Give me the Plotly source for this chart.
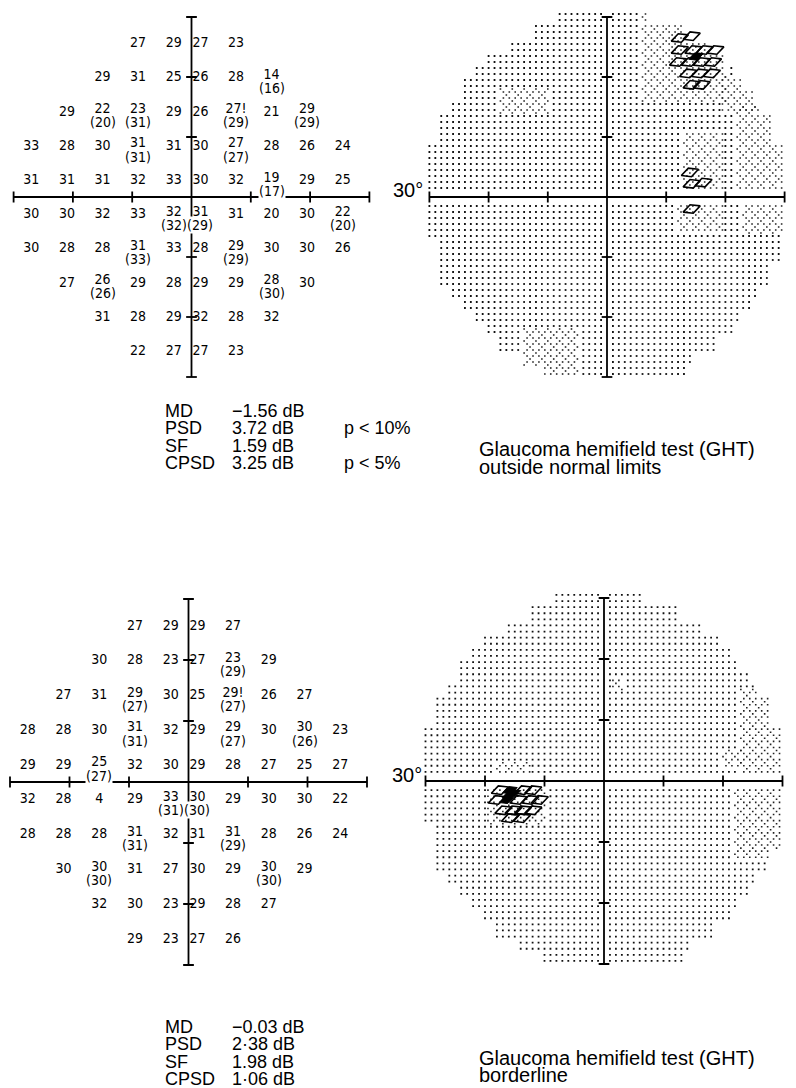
import math
import plotly.graph_objects as go

# the browser adds an 8 px body margin, so every page-pixel target is shifted by OFF
OFF = 8
W, H = 796 - OFF, 1088 - OFF

# ---------------- data ----------------
ROW_DEG = [27, 21, 15, 9, 3, -3, -9, -15, -21, -27]
COL_DEG = [-27, -21, -15, -9, -3, 3, 9, 15, 21, 27]

TOP_THRESH = [
    [None, None, None, "27", "29", "27", "23", None, None, None],
    [None, None, "29", "31", "25", "26", "28", "14", None, None],
    [None, "29", "22", "23", "29", "26", "27!", "21", "29", None],
    ["33", "28", "30", "31", "31", "30", "27", "28", "26", "24"],
    ["31", "31", "31", "32", "33", "30", "32", "19", "29", "25"],
    ["30", "30", "32", "33", "32", "31", "31", "20", "30", "22"],
    ["30", "28", "28", "31", "33", "28", "29", "30", "30", "26"],
    [None, "27", "26", "29", "28", "29", "29", "28", "30", None],
    [None, None, "31", "28", "29", "32", "28", "32", None, None],
    [None, None, None, "22", "27", "27", "23", None, None, None],
]
# retested values shown in brackets: (row deg, col deg, value)
TOP_RETEST = [
    (21, 15, "16"),
    (15, -15, "20"), (15, -9, "31"), (15, 9, "29"), (15, 21, "29"),
    (9, -9, "31"), (9, 9, "27"),
    (3, 15, "17"),
    (-3, -3, "32"), (-3, 3, "29"), (-3, 27, "20"),
    (-9, -9, "33"), (-9, 9, "29"),
    (-15, -15, "26"), (-15, 15, "30"),
]

BOT_THRESH = [
    [None, None, None, "27", "29", "29", "27", None, None, None],
    [None, None, "30", "28", "23", "27", "23", "29", None, None],
    [None, "27", "31", "29", "30", "25", "29!", "26", "27", None],
    ["28", "28", "30", "31", "32", "29", "29", "30", "30", "23"],
    ["29", "29", "25", "32", "30", "29", "28", "27", "25", "27"],
    ["32", "28", "4", "29", "33", "30", "29", "30", "30", "22"],
    ["28", "28", "28", "31", "32", "31", "31", "28", "26", "24"],
    [None, "30", "30", "31", "27", "30", "29", "30", "29", None],
    [None, None, "32", "30", "23", "29", "28", "27", None, None],
    [None, None, None, "29", "23", "27", "26", None, None, None],
]
BOT_RETEST = [
    (21, 9, "29"),
    (15, -9, "27"), (15, 9, "27"),
    (9, -9, "31"), (9, 9, "27"), (9, 21, "26"),
    (3, -15, "27"),
    (-3, -3, "31"), (-3, 3, "30"),
    (-9, -9, "31"), (-9, 9, "29"),
    (-15, -15, "30"), (-15, 15, "30"),
]

TOP_INDICES = [("MD", "\u22121.56 dB", ""),
               ("PSD", "3.72 dB", "p < 10%"),
               ("SF", "1.59 dB", ""),
               ("CPSD", "3.25 dB", "p < 5%")]
BOT_INDICES = [("MD", "\u22120.03 dB", ""),
               ("PSD", "2\u00b738 dB", ""),
               ("SF", "1.98 dB", ""),
               ("CPSD", "1\u00b706 dB", "")]
TOP_GHT = ["Glaucoma hemifield test (GHT)", "outside normal limits"]
BOT_GHT = ["Glaucoma hemifield test (GHT)", "borderline"]

AXIS_TICKS = [-30, -20, -10, 10, 20, 30]

# grey-scale field outline: (row top, row bottom, x left, x right) in degrees
FIELD_BANDS = [
    (30.5, 29.5, -8.5, 6.5),
    (28.5, 26.5, -12.5, 12.5),
    (25.5, 24.5, -16.5, 16.5),
    (23.5, 22.5, -20.5, 19.5),
    (21.5, 20.5, -22.5, 21.5),
    (19.5, 18.5, -24.5, 22.5),
    (17.5, 16.5, -24.5, 24.5),
    (15.5, 14.5, -26.5, 25.5),
    (13.5, 9.5, -28.5, 27.5),
    (8.5, 1.5, -30.5, 29.5),
    (-1.5, -6.5, -30.5, 29.5),
    (-7.5, -10.5, -28.5, 29.5),
    (-11.5, -14.5, -28.5, 27.5),
    (-15.5, -16.5, -26.5, 25.5),
    (-17.5, -18.5, -24.5, 24.5),
    (-19.5, -20.5, -22.5, 22.5),
    (-21.5, -22.5, -20.5, 21.5),
    (-23.5, -25.5, -18.5, 18.5),
    (-26.5, -27.5, -14.5, 14.5),
    (-28.5, -29.5, -10.5, 13.5),
]
# cross-hatch (reduced sensitivity) areas: x0, x1, y0, y1 in degrees
TOP_HATCH = [
    (6, 20, 16, 31), (19.5, 25, 14.5, 20), (22, 29.5, 1.5, 15),
    (13, 19.5, 1.5, 10.5), (12, 19.5, -5.5, -1.5), (23, 29.5, -6, -1.5),
    (-14, -5, -29.5, -22), (-18, -10, 14, 18),
]
BOT_HATCH = [
    (23, 29.5, 1.5, 15), (20, 23, 2.5, 5), (22, 29.5, -12.5, -1.5),
    (-18, -12.5, 1.5, 3), (1.5, 3, 15, 16.5), (-19.5, -10, -7, -1.5),
]
# darkest symbols
TOP_DARK_X = [12.3, 14.3, 12.3, 14.6, 16.5, 18.3, 12.0, 14.0, 16.0, 17.9,
              13.7, 15.7, 17.7, 14.3, 16.0, 14.0, 14.3, 16.3, 14.3]
TOP_DARK_Y = [26.5, 26.8, 24.5, 24.5, 24.5, 24.5, 22.5, 22.5, 22.5, 22.5,
              20.6, 20.6, 20.6, 18.7, 18.7, 4.1, 2.2, 2.4, -2.0]
TOP_SOLID_X = [15.0]
TOP_SOLID_Y = [23.4]
BOT_DARK_X = [-17.5, -13.6, -11.9, -18.0, -14.4, -12.4, -10.8,
              -16.9, -15.2, -13.6, -11.9, -15.8, -13.8]
BOT_DARK_Y = [-1.5, -1.5, -1.5, -3.1, -3.1, -3.1, -3.1,
              -4.8, -4.8, -4.8, -4.8, -6.1, -6.1]
BOT_SOLID_X = [-15.8, -16.4, -15.9, -15.2]
BOT_SOLID_Y = [-1.5, -3.1, -2.3, -2.0]

# ---------------- layout helpers ----------------
R = 33
GRID_FONT = "Liberation Sans Narrow, DejaVu Sans Condensed, Arial Narrow, Liberation Sans"
TEXT_FONT = "Liberation Sans, Arial, Helvetica, sans-serif"
GRID_SIZE = 14

fig = go.Figure()
layout = dict(width=W, height=H, margin=dict(l=0, r=0, t=0, b=0),
              paper_bgcolor="white", plot_bgcolor="white", showlegend=False)
annotations = []

PANELS = {
    # name: (centre x page px, centre y page px, px per deg x, px per deg y)
    "1": (191.5, 197, 5.93, 6.0),
    "2": (607, 197, 5.92, 6.0),
    "3": (188.5, 782, 5.95, 6.1),
    "4": (604, 781, 5.95, 6.1),
}
for k, (pcx, pcy, kx, ky) in PANELS.items():
    cx, cy = pcx - OFF, pcy - OFF
    xa = "xaxis" if k == "1" else "xaxis" + k
    ya = "yaxis" if k == "1" else "yaxis" + k
    left = max(0.0, cx - R * kx)
    right = min(W, cx + R * kx)
    top = max(0.0, cy - R * ky)
    bottom = min(H, cy + R * ky)
    layout[xa] = dict(domain=[left / W, right / W],
                      range=[(left - cx) / kx, (right - cx) / kx],
                      visible=False, fixedrange=True, anchor="y" if k == "1" else "y" + k)
    layout[ya] = dict(domain=[1 - bottom / H, 1 - top / H],
                      range=[(cy - bottom) / ky, (cy - top) / ky],
                      visible=False, fixedrange=True, anchor="x" if k == "1" else "x" + k)


def refs(k):
    return ("x", "y") if k == "1" else ("x" + k, "y" + k)


def add_axes(k, tick_len=0.9, width=1.8):
    xr, yr = refs(k)
    xs = [-30, 30, None, 0, 0]
    ys = [0, 0, None, -30, 30]
    for t in AXIS_TICKS:
        xs += [None, t, t, None, -tick_len, tick_len]
        ys += [None, -tick_len, tick_len, None, t, t]
    fig.add_trace(go.Scatter(x=xs, y=ys, mode="lines", xaxis=xr, yaxis=yr, cliponaxis=False,
                             line=dict(color="black", width=width), hoverinfo="skip"))


def add_grid(k, thresh, retest):
    xr, yr = refs(k)
    has_paren = {(r, c) for r, c, _ in retest}
    tx, ty, tt = [], [], []
    for i, r in enumerate(ROW_DEG):
        for j, c in enumerate(COL_DEG):
            v = thresh[i][j]
            if v is None:
                continue
            xd = c if c < 0 else c - 1.5
            yd = r * 0.95 - 0.1 + (0.4 if (r, c) in has_paren else 0)
            tx.append(xd)
            ty.append(yd)
            tt.append(v)
    fig.add_trace(go.Scatter(x=tx, y=ty, text=tt, mode="text", xaxis=xr, yaxis=yr,
                             textfont=dict(family=GRID_FONT, size=GRID_SIZE, color="black"),
                             textposition="middle center", hoverinfo="skip"))
    for r, c, v in retest:
        xd = c if c < 0 else c - 1.5
        yd = r * 0.95 - 0.1 + 0.4 - 2.1
        annotations.append(dict(x=xd, y=yd, xref=xr, yref=yr, text="(" + v + ")",
                                showarrow=False, bgcolor="white", borderpad=0,
                                font=dict(family=GRID_FONT, size=GRID_SIZE, color="black")))


def band_for(y):
    for (yhi, ylo, xlo, xhi) in FIELD_BANDS:
        if ylo - 0.5 <= y <= yhi + 0.5:
            return xlo, xhi
    return None


def in_rects(x, y, rects):
    return any(x0 <= x <= x1 and y0 <= y <= y1 for (x0, x1, y0, y1) in rects)


def add_field(k, hatch, dark_x, dark_y, solid_x, solid_y):
    xr, yr = refs(k)
    bx, by = [], []
    for (yhi, ylo, xlo, xhi) in FIELD_BANDS:
        n = int(round(yhi - ylo)) + 1
        for s in range(n):
            y = yhi - s
            for x in range(math.ceil(xlo), math.floor(xhi) + 1):
                if x == 0 or in_rects(x, y, hatch):
                    continue
                bx.append(x)
                by.append(y)
    hx, hy = [], []
    for (x0, x1, y0, y1) in hatch:
        for a in range(int(math.ceil(2 * x0)), int(math.floor(2 * x1)) + 1):
            for b in range(int(math.ceil(2 * y0)), int(math.floor(2 * y1)) + 1):
                if (a + b) % 4 and (a - b) % 4:
                    continue
                px, py = a / 2, b / 2
                ext = band_for(py)
                if ext is None or not (ext[0] <= px <= ext[1]):
                    continue
                if abs(py) < 1.2 or abs(px) < 0.6:
                    continue
                hx.append(px)
                hy.append(py)
    fig.add_trace(go.Scatter(x=bx, y=by, mode="markers", xaxis=xr, yaxis=yr,
                             marker=dict(symbol="square", size=1.8, color="#111", line=dict(width=0)),
                             hoverinfo="skip"))
    fig.add_trace(go.Scatter(x=hx, y=hy, mode="markers", xaxis=xr, yaxis=yr,
                             marker=dict(symbol="square", size=1.6, color="#222", line=dict(width=0)),
                             hoverinfo="skip"))
    fig.add_trace(go.Scatter(x=dark_x, y=dark_y, mode="markers", xaxis=xr, yaxis=yr,
                             marker=dict(symbol="diamond-wide-open", size=13, angle=-20,
                                         color="black", line=dict(width=1.6, color="black")),
                             hoverinfo="skip"))
    fig.add_trace(go.Scatter(x=solid_x, y=solid_y, mode="markers", xaxis=xr, yaxis=yr,
                             marker=dict(symbol="diamond-wide", size=11, angle=-20,
                                         color="black", line=dict(width=1, color="black")),
                             hoverinfo="skip"))


add_field("2", TOP_HATCH, TOP_DARK_X, TOP_DARK_Y, TOP_SOLID_X, TOP_SOLID_Y)
add_field("4", BOT_HATCH, BOT_DARK_X, BOT_DARK_Y, BOT_SOLID_X, BOT_SOLID_Y)
for k in ["1", "2", "3", "4"]:
    add_axes(k)
add_grid("1", TOP_THRESH, TOP_RETEST)
add_grid("3", BOT_THRESH, BOT_RETEST)


def ptxt(x, y, text, size=18, xanchor="left"):
    # x, y in page pixels
    annotations.append(dict(x=(x - OFF) / W, y=1 - (y - OFF) / H, xref="paper", yref="paper",
                            text=text, showarrow=False, xanchor=xanchor, yanchor="middle",
                            font=dict(family=TEXT_FONT, size=size, color="black")))


def index_block(rows, y0, dy):
    for i, (lab, val, p) in enumerate(rows):
        y = y0 + i * dy
        ptxt(163, y, lab)
        ptxt(230, y, val)
        if p:
            ptxt(342, y, p)


index_block(TOP_INDICES, 411, 17.3)
index_block(BOT_INDICES, 1027, 17.3)
ptxt(477, 449, TOP_GHT[0], size=20)
ptxt(477, 467, TOP_GHT[1], size=20)
ptxt(477, 1058, BOT_GHT[0], size=20)
ptxt(477, 1075, BOT_GHT[1], size=20)
ptxt(425, 190, "30\u00b0", size=20, xanchor="right")
ptxt(424, 775, "30\u00b0", size=20, xanchor="right")

layout["annotations"] = annotations
fig.update_layout(**layout)
fig.write_html("out.html")
